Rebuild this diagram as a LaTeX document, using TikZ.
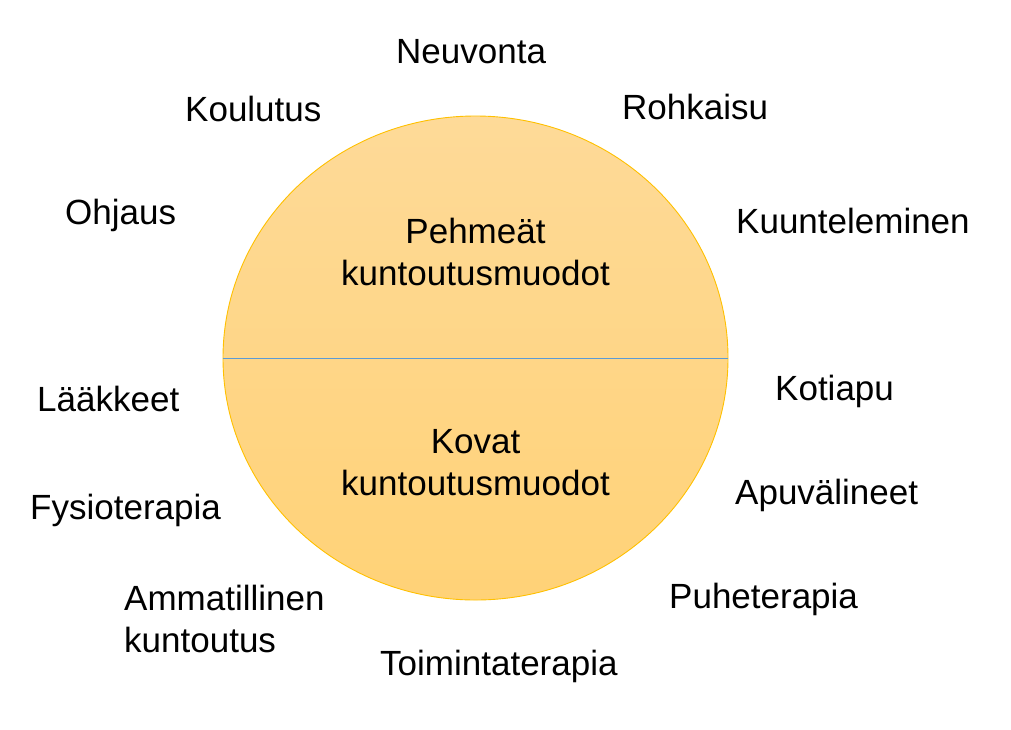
\documentclass[tikz,border=0pt]{standalone}
\usepackage{fontspec}
\setmainfont{Liberation Sans}
\usetikzlibrary{shapes.geometric}
\definecolor{filltop}{HTML}{FEDA98}
\definecolor{fillbot}{HTML}{FFD277}
\definecolor{rimcol}{HTML}{FFC000}
\definecolor{divcol}{HTML}{5B9BD5}
\tikzset{
  lbl/.style={anchor=base west, inner sep=0pt, font=\fontsize{35}{42}\selectfont, align=left},
  ctr/.style={anchor=base, inner sep=0pt, font=\fontsize{35}{42}\selectfont, align=center},
}
\begin{document}
\begin{tikzpicture}[x=1pt,y=-1pt]
\useasboundingbox (0,0) rectangle (1011,729);
\node[ellipse, draw=rimcol, line width=0.9pt, top color=filltop, bottom color=fillbot,
      minimum width=505pt, minimum height=484pt, inner sep=0pt] (circ) at (475.5,358) {};
\draw[divcol, line width=1pt] (circ.west) -- (circ.east);
\node[ctr] (soft) at (475.5,285) {Pehmeät\\kuntoutusmuodot};
\node[ctr] (hard) at (475.5,495) {Kovat\\kuntoutusmuodot};
\node[lbl] (neuvonta) at (396,63.3) {Neuvonta};
\node[lbl] (koulutus) at (185,121.7) {Koulutus};
\node[lbl] (rohkaisu) at (622,119) {Rohkaisu};
\node[lbl] (ohjaus) at (65,224) {Ohjaus};
\node[lbl] (kuuntel) at (736,233) {Kuunteleminen};
\node[lbl] (laakkeet) at (37,411.7) {Lääkkeet};
\node[lbl] (fysio) at (30,519) {Fysioterapia};
\node[lbl] (ammat) at (124,652.7) {Ammatillinen\\kuntoutus};
\node[lbl] (kotiapu) at (775,400.7) {Kotiapu};
\node[lbl] (apuv) at (735,504) {Apuvälineet};
\node[lbl] (puhe) at (669,608) {Puheterapia};
\node[lbl] (toiminta) at (380,675) {Toimintaterapia};
\end{tikzpicture}
\end{document}
